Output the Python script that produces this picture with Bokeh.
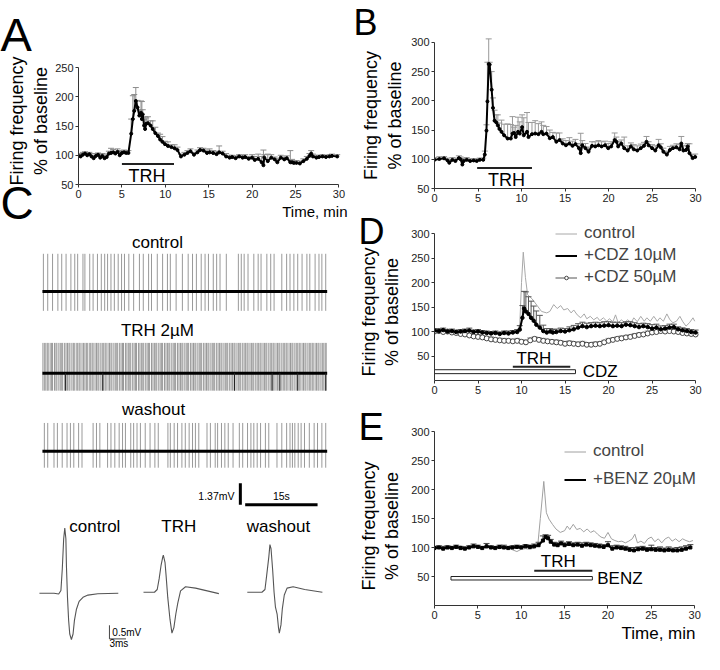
import numpy as np
from bokeh.plotting import figure
from bokeh.models import Range1d, FixedTicker, Label, Legend, LegendItem, Title
from bokeh.layouts import row, column
from bokeh.embed import file_html
from bokeh.resources import INLINE

FONT = "Liberation Sans"
SX = 702 / 720
SY = 652 / 670


def X(px):
    return int(round(px * SX))


def Y(py):
    return int(round(py * SY))


# ---------------- DATA ----------------
TICKS_X = [0, 5, 10, 15, 20, 25, 30]

# Panel A : firing frequency (% of baseline), mean and upper SEM
A_t = [0.0, 0.25, 0.5, 0.75, 1.0, 1.25, 1.5, 1.75, 2.0, 2.25, 2.5, 2.75, 3.0, 3.25, 3.5, 3.75, 4.0, 4.25, 4.5,
       4.75, 5.0, 5.25, 5.5, 5.75, 6.07, 6.26, 6.42, 6.6, 6.8, 7.0, 7.2, 7.3, 7.4, 7.55, 7.67, 7.8, 8.0, 8.3,
       8.55, 8.85, 9.15, 9.4, 9.67, 9.96, 10.3, 10.7, 11.07, 11.4, 11.8, 12.2, 12.55, 12.9, 13.3, 13.7, 14.0,
       14.4, 14.8, 15.1, 15.5, 15.9, 16.2, 16.6, 17.0, 17.4, 17.7, 18.1, 18.5, 18.9, 19.2, 19.6, 20.0, 20.3,
       20.7, 21.1, 21.3, 21.4, 21.8, 22.2, 22.6, 22.9, 23.3, 23.7, 24.0, 24.4, 24.6, 24.8, 25.1, 25.5, 25.9,
       26.3, 26.6, 26.8, 27.0, 27.4, 27.7, 28.1, 28.5, 28.9, 29.2, 29.8]
A_v = [99, 98, 101, 103, 100, 102, 98, 95, 99, 101, 96, 99, 95, 97, 103, 104, 105, 103, 106,
       100, 104, 105, 104, 104, 137, 162, 176, 193, 182, 168, 173, 162, 170, 151, 145, 154, 155, 151,
       145, 138, 133, 127, 123, 119, 116, 114, 112, 109, 98, 101, 104, 107, 101, 105, 109,
       108, 104, 105, 104, 102, 105, 103, 98, 96, 97, 95, 98, 96, 97, 94, 96, 92,
       94, 88, 83, 96, 90, 96, 93, 88, 96, 93, 95, 88, 88, 87, 87, 86, 90,
       94, 99, 103, 98, 96, 97, 98, 97, 98, 99, 98]
A_err = [4, 4, 4, 3, 4, 3, 5, 5, 4, 3, 6, 4, 4, 5, 4, 8, 5, 4, 5,
         6, 4, 4, 4, 4, 25, 40, 28, 23, 12, 10, 20, 30, 8, 10, 21, 10, 11, 8,
         14, 10, 5, 9, 9, 5, 7, 4, 6, 5, 4, 4, 4, 4, 4, 4, 4,
         4, 5, 6, 4, 5, 11, 4, 5, 4, 3, 4, 3, 4, 4, 4, 5, 6,
         8, 10, 26, 5, 12, 5, 4, 6, 4, 4, 4, 20, 5, 4, 4, 4, 4,
         4, 4, 5, 4, 4, 3, 3, 3, 3, 3, 3]
A_TRH = [5.0, 11.0]

# Panel B
B_t = [0.0, 0.56, 1.1, 1.5, 1.7, 2.05, 2.4, 2.8, 3.0, 3.2, 3.35, 3.7, 4.1, 4.5, 4.85, 5.2, 5.6, 5.78, 5.97,
       6.08, 6.23, 6.34, 6.57, 6.72, 6.9, 7.1, 7.28, 7.46, 7.7, 8.0, 8.4, 8.77, 8.96, 9.14, 9.33, 9.6, 9.8,
       10.07, 10.26, 10.63, 10.8, 11.2, 11.57, 11.94, 12.3, 12.5, 12.87, 13.25, 13.6, 14.0, 14.37, 14.74,
       15.1, 15.5, 15.86, 16.2, 16.6, 16.8, 16.98, 17.35, 17.7, 18.1, 18.47, 18.84, 19.2, 19.6, 19.96,
       20.3, 20.7, 20.9, 21.1, 21.46, 21.8, 22.2, 22.57, 22.9, 23.3, 23.7, 24.07, 24.36, 24.6, 25.0,
       25.37, 25.75, 26.0, 26.3, 26.7, 27.05, 27.4, 27.8, 28.17, 28.36, 28.6, 28.9, 29.1, 29.3, 29.66, 29.96]
B_v = [99, 100.5, 101.6, 98, 94, 99, 97, 102, 100, 91, 97, 99, 97, 98, 97, 99, 99, 108, 149,
       199, 263, 262, 219, 188, 166, 163, 158, 152, 147, 141, 135.5, 135.5, 144, 145, 138, 147, 144,
       155, 141, 147, 138, 143, 144, 143, 147, 143, 144, 136, 138, 130, 133, 127,
       124, 127, 123, 126, 119, 110.5, 124, 119, 113, 123, 122, 124, 122, 124, 119,
       122, 133, 130, 122, 127, 119, 115, 122, 117, 115, 119, 123, 130, 124, 119,
       115, 124, 120.5, 113, 108, 116, 119, 120.5, 117, 127, 115, 116, 122, 110.5, 102, 104]
B_err = [4, 4, 3, 4, 5, 4, 5, 4, 4, 10, 5, 4, 4, 3, 4, 3, 3, 6, 10,
         67, 43, 4, 31, 17, 18, 13, 18, 10, 20, 19, 25, 24, 29, 10, 20, 25, 20,
         21, 30, 33, 25, 20, 22, 18, 17, 15, 12, 14, 8, 15, 12, 8,
         8, 10, 8, 8, 8, 34, 8, 8, 8, 7, 8, 8, 8, 7, 8,
         8, 12, 8, 8, 6, 19, 8, 6, 8, 8, 7, 6, 9, 6, 6,
         8, 10, 6, 6, 6, 6, 5, 6, 8, 12, 8, 8, 5, 16, 6, 5]
B_TRH = [4.9, 11.2]

# Panel C : extracellular recordings (spike times in s)
TRACE_DUR = 59.0
C_ctrl_spikes = [0.2, 1.1, 2.1, 3.2, 4.0, 4.9, 5.9, 6.7, 7.3, 8.4, 8.8, 9.8, 10.5, 11.4, 12.2, 12.9, 13.5, 14.2,
                 14.9, 15.7, 16.4, 17.0, 17.9, 18.9, 20.1, 20.9, 22.0, 22.6, 23.8, 24.9, 25.9, 26.5, 27.7,
                 29.0, 30.2, 31.1, 31.9, 32.9, 33.7, 34.4, 35.4, 36.1, 36.8, 38.1, 40.6, 41.2, 41.8, 42.6,
                 43.8, 44.7, 45.3, 46.5, 47.3, 48.0, 49.6, 50.6, 51.3, 52.1, 52.9, 53.8, 54.8, 55.4, 56.5,
                 57.3, 57.9, 58.7]
C_trh_spikes = [0.1, 0.4, 0.7, 1.0, 1.2, 1.6, 1.9, 2.1, 2.5, 2.8, 3.0, 3.4, 3.7, 4.0, 4.2, 4.6, 4.9, 5.2, 5.5,
                5.7, 6.1, 6.4, 6.6, 7.0, 7.3, 7.6, 7.8, 8.2, 8.5, 8.8, 9.1, 9.3, 9.7, 10.0, 10.3, 10.5, 10.9,
                11.2, 11.5, 11.7, 12.1, 12.4, 12.7, 13.0, 13.2, 13.6, 13.9, 14.2, 14.4, 14.8, 15.1, 15.4,
                15.6, 16.0, 16.3, 16.6, 16.8, 17.2, 17.5, 17.8, 18.1, 18.3, 18.7, 19.0, 19.3, 19.5, 19.9,
                20.2, 20.5, 20.8, 21.0, 21.4, 21.7, 22.0, 22.2, 22.6, 22.9, 23.2, 23.5, 23.7, 24.1, 24.4,
                24.7, 24.9, 25.3, 25.6, 25.9, 26.2, 26.4, 26.8, 27.1, 27.4, 27.6, 28.0, 28.3, 28.6, 28.9,
                29.1, 29.5, 29.8, 30.1, 30.3, 30.7, 31.0, 31.3, 31.6, 31.8, 32.2, 32.5, 32.8, 33.0, 33.4,
                33.7, 34.0, 34.3, 34.5, 34.9, 35.2, 35.5, 35.7, 36.1, 36.4, 36.7, 37.0, 37.2, 37.6, 37.9,
                38.2, 38.4, 38.8, 39.1, 39.4, 39.7, 39.9, 40.3, 40.6, 40.9, 41.1, 41.5, 41.8, 42.1, 42.4,
                42.6, 43.0, 43.3, 43.6, 43.8, 44.2, 44.5, 44.8, 45.1, 45.3, 45.7, 46.0, 46.3, 46.5, 46.9,
                47.2, 47.5, 47.8, 48.0, 48.4, 48.7, 49.0, 49.2, 49.6, 49.9, 50.2, 50.5, 50.7, 51.1, 51.4,
                51.7, 51.9, 52.3, 52.6, 52.9, 53.2, 53.4, 53.8, 54.1, 54.4, 54.6, 55.0, 55.3, 55.6, 55.9,
                56.1, 56.5, 56.8, 57.1, 57.3, 57.7, 58.0, 58.3, 58.6, 58.8]
C_trh_dark = [4.8, 12.5, 39.8, 47.6, 49.2, 52.9, 58.7]
C_wash_spikes = [0.4, 1.1, 2.4, 3.1, 4.1, 5.1, 5.8, 6.5, 7.5, 8.2, 10.5, 11.2, 11.9, 13.5, 14.2, 15.0, 15.9,
                 16.6, 17.2, 18.3, 18.9, 19.6, 20.3, 21.3, 22.3, 23.3, 24.0, 26.0, 26.5, 27.3, 28.0, 28.9,
                 29.6, 30.4, 31.1, 31.7, 32.4, 34.1, 34.8, 35.8, 36.3, 37.1, 37.8, 38.5, 39.5, 40.8, 41.5,
                 42.5, 43.2, 43.8, 44.5, 45.2, 46.2, 46.9, 48.6, 49.6, 50.6, 51.3, 51.8, 52.3, 53.0, 53.6,
                 54.3, 55.3, 56.3, 57.0, 57.9, 58.7]
C_ctrl_amp = [2.43, -1.25]
C_trh_amp = [1.93, -1.12]
C_wash_amp = [1.80, -1.06]
SCALE_MV = 1.37
SCALE_S = 15

# Panel C : averaged spike waveforms (ms, mV)
W_ctrl_t = [0, 2.65, 3.5, 3.9, 4.15, 4.4, 4.6, 4.8, 4.9, 5.1, 5.3, 5.5, 5.8, 6.1, 6.35, 6.7, 7.2, 7.9, 8.8, 10.6, 14.3]
W_ctrl_v = [0, 0, -0.03, 0.1, 0.9, 2.0, 2.39, 2.0, 1.0, -0.2, -1.0, -1.5, -1.7, -1.5, -1.0, -0.6, -0.3, -0.15, -0.07, -0.02, 0]
W_trh_t = [0, 2.5, 3.0, 3.35, 3.7, 4.0, 4.1, 4.4, 4.6, 4.9, 5.3, 5.65, 6.0, 6.35, 6.7, 7.2, 8.1, 9.9, 12.0, 14.1]
W_trh_v = [0, 0, 0.1, 0.5, 1.0, 1.3, 1.36, 1.1, 0.6, -0.2, -1.0, -1.5, -1.3, -0.8, -0.4, 0.05, 0.2, 0.15, 0.05, -0.05]
W_wash_t = [0, 2.65, 3.2, 3.5, 3.9, 4.1, 4.3, 4.6, 4.85, 5.1, 5.4, 5.65, 5.8, 6.1, 6.35, 6.7, 7.2, 8.3, 10.4, 13.6]
W_wash_v = [0, 0, 0.1, 0.6, 1.3, 1.75, 1.6, 0.8, 0.0, -0.55, -0.8, -1.3, -1.5, -1.2, -0.6, -0.1, 0.15, 0.2, 0.1, 0.0]
W_SCALE_MV = 0.5
W_SCALE_MS = 3

# Panel D
D_ctrl_t = [0, 0.5, 1, 1.5, 2, 2.5, 3, 3.5, 4, 4.5, 5, 5.5, 6, 6.5, 7, 7.5, 8, 8.5, 9, 9.5, 9.8, 10.0, 10.2,
            10.45, 10.7, 11.2, 11.75, 12.3, 12.9, 13.25, 13.7, 14.1, 14.5, 14.85, 15.3, 15.7, 16.0, 16.4,
            16.8, 17.2, 17.5, 17.9, 18.3, 18.7, 19.0, 19.4, 19.8, 20.1, 20.5, 20.8, 21.1, 21.5, 21.8, 22.2,
            22.6, 22.9, 23.3, 23.7, 24.1, 24.4, 24.8, 25.2, 25.6, 25.9, 26.3, 26.7, 27.05, 27.4, 27.8, 28.2,
            28.5, 28.9, 29.3, 29.7, 29.9]
D_ctrl_v = [100, 103, 101, 104, 102, 99, 101, 103, 100, 104, 101, 98, 100, 97, 99, 98, 101, 99, 98, 100, 115,
            200, 262, 210, 175, 167, 154, 141, 138, 141, 155, 147, 153, 144, 147, 138, 144, 134, 128, 136,
            126, 131, 124, 129, 122, 128, 121, 126, 120, 134, 118, 124, 118, 124, 118, 128, 120, 131, 121,
            128, 121, 131, 121, 128, 121, 136, 124, 118, 121, 131, 121, 111, 118, 128, 121]
D_c10_t = [0, 0.5, 1, 1.5, 2, 2.5, 3, 3.5, 4, 4.5, 5, 5.5, 6, 6.5, 7, 7.5, 8, 8.5, 9, 9.5, 9.8, 10.1, 10.3,
           10.5, 10.8, 11.1, 11.4, 11.7, 12.1, 12.5, 12.9, 13.3, 13.6, 14.0, 14.5, 15.0, 15.5, 16.0, 16.5,
           17.0, 17.5, 18.0, 18.5, 19.0, 19.5, 20.0, 20.5, 21.0, 21.5, 22.0, 22.5, 23.0, 23.5, 24.0, 24.5,
           25.0, 25.5, 26.0, 26.5, 27.0, 27.5, 28.0, 28.5, 29.0, 29.5, 30.0]
D_c10_v = [102, 101, 103, 100, 101, 99, 100, 101, 102, 99, 100, 98, 97, 96, 97, 95, 97, 96, 98, 99, 104, 128,
           147, 141, 136, 128, 122, 114, 108, 101, 98, 100, 98, 99, 101, 100, 102.5, 104.5, 108, 111, 109,
           111, 112, 111, 112, 113, 111, 112, 111, 114, 113, 111, 109, 111, 109, 106, 108, 104.5, 106, 108,
           109, 104.5, 102.5, 101, 99, 98]
D_c10_err = [4, 4, 4, 4, 4, 4, 4, 4, 5, 4, 4, 4, 4, 4, 4, 4, 4, 5, 4, 5, 8, 25, 35, 40, 35, 34, 30, 28, 25, 12,
             8, 6, 6, 6, 6, 6, 7, 8, 8, 8, 8, 7, 7, 7, 8, 7, 8, 7, 7, 6, 7, 7, 7, 6, 7, 8, 7, 7, 6, 7, 6,
             5, 5, 5, 5, 5]
D_c50_t = [0, 0.5, 1, 1.5, 2, 2.5, 3, 3.5, 4, 4.5, 5, 5.5, 6, 6.5, 7, 7.5, 8, 8.5, 9, 9.5, 10, 10.5, 11, 11.5,
           12, 12.5, 13, 13.5, 14, 14.5, 15, 15.5, 16, 16.5, 17, 17.5, 18, 18.5, 19, 19.5, 20, 20.5, 21, 21.5,
           22, 22.5, 23, 23.5, 24, 24.5, 25, 25.5, 26, 26.5, 27, 27.5, 28, 28.5, 29, 29.5, 30]
D_c50_v = [100, 101, 99, 100, 98, 97, 95, 94, 92, 90, 89, 88, 86, 84, 83, 82, 81, 81, 80, 81, 79, 78, 82, 85,
           83, 81, 80, 79, 78, 77, 75, 76, 75, 74, 75, 73, 73, 74, 75, 78, 81, 83, 85, 86, 88, 89, 91, 93,
           94, 96, 98, 99, 101, 100, 101, 100, 99, 97, 96, 95, 94]
D_c50_err = [4, 4, 4, 4, 5, 4, 4, 5, 4, 4, 5, 4, 4, 5, 4, 4, 5, 4, 4, 5, 4, 4, 5, 4, 4, 5, 4, 4, 5, 4, 4,
             5, 4, 4, 5, 4, 4, 5, 4, 4, 5, 4, 4, 5, 4, 4, 5, 4, 4, 5, 4, 4, 5, 4, 4, 5, 4, 4, 5, 4, 4]
D_TRH = [9.0, 15.6]
D_CDZ = [0.0, 16.2]

# Panel E
E_ctrl_t = [0, 0.5, 1, 1.5, 2, 2.5, 3, 3.5, 4, 4.5, 5, 5.5, 6, 6.5, 7, 7.5, 8, 8.5, 9, 9.5, 10, 10.5, 11, 11.5,
            11.9, 12.2, 12.6, 12.9, 13.2, 13.6, 14.0, 14.5, 15.0, 15.3, 15.6, 16.0, 16.4, 16.8, 17.2, 17.6,
            18.0, 18.4, 18.8, 19.2, 19.6, 20.0, 20.4, 20.8, 21.2, 21.6, 22.0, 22.4, 22.8, 23.1, 23.4, 23.8,
            24.2, 24.6, 25.0, 25.4, 25.8, 26.2, 26.6, 27.0, 27.4, 27.8, 28.2, 28.6, 29.0, 29.4, 29.8]
E_ctrl_v = [98, 101, 99, 100, 102, 99, 103, 100, 98, 101, 103, 100, 99, 102, 100, 98, 101, 99, 96, 93, 97, 98,
            97, 99, 103, 150, 214, 160, 149, 140, 132, 126, 129, 137, 131, 140, 131, 133, 127, 132, 126, 129,
            123, 118, 116, 126, 115, 112, 110, 111, 108, 111, 115, 123, 108, 111, 107, 115, 118, 110, 115,
            108, 115, 118, 111, 115, 110, 115, 112, 110, 112]
E_bz_t = [0, 0.5, 1, 1.5, 2, 2.5, 3, 3.5, 4, 4.5, 5, 5.5, 6, 6.5, 7, 7.5, 8, 8.5, 9, 9.5, 10, 10.5, 11, 11.5,
          12.0, 12.5, 12.8, 13.1, 13.4, 13.8, 14.2, 14.6, 15.0, 15.5, 16.0, 16.5, 17.0, 17.5, 18.0, 18.5,
          19.0, 19.5, 20.0, 20.5, 21.0, 21.5, 22.0, 22.5, 23.0, 23.5, 24.0, 24.5, 25.0, 25.5, 26.0, 26.5,
          27.0, 27.5, 28.0, 28.5, 29.0, 29.5]
E_bz_v = [99, 100, 98, 100, 99, 101, 99, 98, 100, 102, 101, 99, 102, 100, 99, 101, 100, 99, 100, 101, 100, 102,
          101, 102, 104, 112, 118, 116, 110, 105, 104, 107, 104, 106, 104, 105, 103, 105, 104, 103, 102, 101,
          104, 98, 100, 99, 98, 96, 95, 97, 98, 96, 97, 96, 96, 95, 96, 95, 95, 96, 98, 100]
E_bz_err = [3, 3, 4, 3, 3, 3, 3, 3, 3, 4, 3, 3, 5, 3, 3, 3, 4, 3, 3, 3, 3, 3, 3, 4, 5, 8, 4, 5, 4, 4, 4, 4, 4,
            4, 4, 4, 5, 4, 4, 4, 4, 4, 6, 5, 4, 4, 4, 4, 5, 4, 4, 4, 7, 4, 5, 4, 5, 4, 5, 5, 5, 5]
E_TRH = [11.5, 18.2]
E_BENZ = [1.9, 18.2]

# ---------------- HELPERS ----------------


def no_align(p):
    try:
        p.frame_align = False
    except Exception:
        pass


def style_axes(p, xticks, yticks, xb, yb):
    p.xaxis.ticker = FixedTicker(ticks=xticks)
    p.yaxis.ticker = FixedTicker(ticks=yticks)
    p.xaxis.bounds = xb
    p.yaxis.bounds = yb
    for ax in list(p.xaxis) + list(p.yaxis):
        ax.axis_line_color = "#333333"
        ax.major_tick_line_color = "#333333"
        ax.minor_tick_line_color = None
        ax.major_tick_out = 3
        ax.major_tick_in = 0
        ax.major_label_text_font = FONT
        ax.major_label_text_font_size = "11px"
        ax.major_label_text_color = "#222222"
        ax.major_label_standoff = 2


def chart(bounds, fl, fb, ox, kx, y_at_fb, ky, xticks, yticks, xb, yb):
    """frame spans from fl to the right edge and from the top edge to fb (ref px)."""
    x0, x1, y0, y1 = bounds
    xr = (ox, ox + (x1 - fl) / kx)
    yr = (y_at_fb, y_at_fb + (fb - y0) / ky)
    p = figure(width=X(x1) - X(x0), height=Y(y1) - Y(y0),
               x_range=Range1d(*xr), y_range=Range1d(*yr),
               output_backend="svg", toolbar_location=None,
               min_border_left=X(fl) - X(x0), min_border_right=0,
               min_border_top=0, min_border_bottom=Y(y1) - Y(fb))
    p.outline_line_color = None
    p.grid.visible = False
    no_align(p)
    style_axes(p, xticks, yticks, xb, yb)

    def fx(px):
        return ox + (px - fl) / kx

    def fy(py):
        return y_at_fb + (fb - py) / ky
    return p, fx, fy


def blank(bounds, ox, kx, oy, ky):
    x0, x1, y0, y1 = bounds
    xr = ((x0 - ox) / kx, (x1 - ox) / kx)
    yr = ((oy - y1) / ky, (oy - y0) / ky)
    p = figure(width=X(x1) - X(x0), height=Y(y1) - Y(y0),
               x_range=Range1d(*xr), y_range=Range1d(*yr),
               output_backend="svg", toolbar_location=None,
               x_axis_location=None, y_axis_location=None, min_border=0)
    p.outline_line_color = None
    p.grid.visible = False
    no_align(p)

    def fx(px):
        return (px - ox) / kx

    def fy(py):
        return (oy - py) / ky
    return p, fx, fy


def text(p, x, y, s, size, align="center", baseline="middle", color="black"):
    p.add_layout(Label(x=x, y=y, text=s, text_font=FONT, text_font_size=f"{size}px",
                       text_align=align, text_baseline=baseline, text_color=color))


def mk_title(s, size, align, offset, standoff, valign="bottom"):
    return Title(text=s, align=align, offset=offset, standoff=standoff, vertical_align=valign,
                 text_font=FONT, text_font_size=f"{size}px", text_font_style="normal", text_color="black")


def errbars(p, t, v, e, color):
    top = [a + b for a, b in zip(v, e)]
    p.segment(x0=t, y0=v, x1=t, y1=top, line_color=color, line_width=1)
    p.scatter(x=t, y=top, marker="dash", size=6, line_color=color, line_width=1)


def label_panel(bounds, ftop, fbot, letter, letter_x, letter_size, s2):
    """narrow panel holding the panel letter (above) and the rotated y-axis label (left)."""
    x0, x1, y0, y1 = bounds
    W = X(x1) - X(x0)
    H = Y(y1) - Y(y0)
    top = Y(ftop) - Y(y0)
    bot = Y(y1) - Y(fbot)
    p = figure(width=W, height=H, x_range=Range1d(0, 1), y_range=Range1d(0, 1),
               output_backend="svg", toolbar_location=None,
               x_axis_location=None, y_axis_location=None,
               min_border_left=W - 2, min_border_right=0, min_border_top=top, min_border_bottom=bot)
    p.outline_line_color = None
    p.grid.visible = False
    no_align(p)
    p.add_layout(mk_title("% of baseline", 18, "center", 0, 0), "left")
    p.add_layout(mk_title("Firing frequency", 18, "center", 0, s2), "left")
    st = max(0, int(top - 2 - 1.15 * letter_size))
    p.add_layout(mk_title(letter, letter_size, "left", (X(letter_x) - X(x0)) - (W - 2), st, "top"), "above")
    return p, W, bot


def bottom_title(p, s, size, offset):
    p.add_layout(mk_title(s, size, "right", offset, 0), "below")


# ---------------- PANEL A ----------------
labA, WA, botA = label_panel((0, 53, 0, 240), 69, 179, "A", 0, 47, 3)
stC = max(0, int(botA - 2 - 1.15 * 46))
labA.add_layout(mk_title("C", 46, "left", -(WA - 2), stC, "top"), "below")
pA, fxA, fyA = chart((53, 360, 0, 240), 77, 189, 0, 9.0, 50, 0.6, TICKS_X, [50, 100, 150, 200, 250],
                     (0, 30), (50, 250))
errbars(pA, A_t, A_v, A_err, "#8c8c8c")
pA.line(A_t, A_v, line_color="black", line_width=2)
pA.scatter(A_t, A_v, size=3, color="black")
pA.line(A_TRH, [85, 85], line_color="#222222", line_width=2)
text(pA, fxA(148), fyA(180), "TRH", 18)
bottom_title(pA, "Time, min", 15, 4)

# ---------------- PANEL C traces ----------------
KX, KY = 4.95, 16.06


def trace(bounds, oy, spikes, amp, title, title_pos):
    p, fx, fy = blank(bounds, 43, KX, oy, KY)
    p.segment(x0=spikes, y0=[amp[1]] * len(spikes), x1=spikes, y1=[amp[0]] * len(spikes),
              line_color="#999999", line_width=1)
    p.line([0, TRACE_DUR], [0, 0], line_color="black", line_width=3)
    text(p, fx(title_pos[0]), fy(title_pos[1]), title, 17)
    return p, fx, fy


pCc, _, _ = trace((0, 360, 240, 327), 299, C_ctrl_spikes, C_ctrl_amp, "control", (161, 248))
pCt, _, _ = trace((0, 360, 327, 409), 383, C_trh_spikes, C_trh_amp, "TRH 2\u00b5M", (161, 339))
pCt.segment(x0=C_trh_dark, y0=[C_trh_amp[1]] * len(C_trh_dark), x1=C_trh_dark, y1=[0] * len(C_trh_dark),
            line_color="#222222", line_width=1)
pCw, fxW, fyW = trace((0, 360, 409, 527), 463, C_wash_spikes, C_wash_amp, "washout", (157, 420))
# scale bar (1.37 mV, 15 s)
sb_x = fxW(246)
sb_y = fyW(518)
pCw.line([sb_x, sb_x], [sb_y, sb_y + SCALE_MV], line_color="black", line_width=3)
pCw.line([sb_x + 1.0, sb_x + 1.0 + SCALE_S], [sb_y, sb_y], line_color="black", line_width=3)
text(pCw, fxW(240), fyW(509), "1.37mV", 10.5, align="right")
text(pCw, sb_x + 1.0 + SCALE_S / 2, fyW(509), "15s", 10.5)

# ---------------- PANEL C spikes ----------------
KT, KV = 5.67, 28.0
pS1, fx1, fy1 = blank((0, 147, 527, 670), 40, KT, 609, KV)
pS1.line(W_ctrl_t, W_ctrl_v, line_color="#555555", line_width=1.1)
text(pS1, fx1(97), fy1(540), "control", 17)
wx = fx1(112)
wy = fy1(656)
pS1.line([wx, wx], [wy, wy + W_SCALE_MV], line_color="#444444", line_width=1)
pS1.line([wx, wx + W_SCALE_MS], [wy, wy], line_color="#444444", line_width=1)
text(pS1, fx1(115), fy1(649), "0.5mV", 10, align="left")
text(pS1, wx, fy1(661), "3ms", 10, align="left")

pS2, fx2, fy2 = blank((147, 245, 527, 670), 144, KT, 608, KV)
pS2.line(W_trh_t, W_trh_v, line_color="#555555", line_width=1.1)
text(pS2, fx2(183), fy2(540), "TRH", 17)

pS3, fx3, fy3 = blank((245, 360, 527, 670), 253, KT, 608, KV)
pS3.line(W_wash_t, W_wash_v, line_color="#555555", line_width=1.1)
text(pS3, fx3(285), fy3(540), "washout", 17)

# ---------------- PANEL B ----------------
labB, _, _ = label_panel((360, 416, 0, 214), 46, 190, "B", 362, 36, 3)
pB, fxB, fyB = chart((416, 720, 0, 214), 445, 193, 0, 8.93, 50, 0.6, TICKS_X,
                     [50, 100, 150, 200, 250, 300], (0, 30), (50, 300))
errbars(pB, B_t, B_v, B_err, "#999999")
pB.line(B_t, B_v, line_color="black", line_width=2)
pB.scatter(B_t, B_v, size=3, color="black")
pB.line(B_TRH, [85, 85], line_color="#222222", line_width=2)
text(pB, fxB(519), fyB(184), "TRH", 18)

# ---------------- PANEL D ----------------
labD, _, _ = label_panel((360, 413, 214, 413), 262, 378, "D", 367, 36, 1)
pD, fxD, fyD = chart((413, 720, 214, 413), 445, 391, 0, 8.93, 0, 0.504, TICKS_X,
                     [50, 100, 150, 200, 250, 300], (0, 30), (0, 300))
rD0 = pD.line(D_ctrl_t, D_ctrl_v, line_color="#a8a8a8", line_width=1)
errbars(pD, D_c50_t, D_c50_v, D_c50_err, "#999999")
rD50l = pD.line(D_c50_t, D_c50_v, line_color="#555555", line_width=1)
rD50m = pD.scatter(D_c50_t, D_c50_v, marker="circle", size=5, line_color="#444444", fill_color="white",
                   line_width=1)
errbars(pD, D_c10_t, D_c10_v, D_c10_err, "#555555")
rD10l = pD.line(D_c10_t, D_c10_v, line_color="black", line_width=2)
rD10m = pD.scatter(D_c10_t, D_c10_v, marker="circle", size=3.5, color="black")
pD.line(D_TRH, [28, 28], line_color="#222222", line_width=2)
text(pD, fxD(547), fyD(368), "TRH", 17)
pD.quad(left=[D_CDZ[0]], right=[D_CDZ[1]], bottom=[14], top=[22], fill_color="white",
        line_color="#222222", line_width=1)
text(pD, fxD(597), fyD(382), "CDZ", 17, align="left")
legD = Legend(items=[LegendItem(label="control", renderers=[rD0]),
                     LegendItem(label="+CDZ 10\u00b5M", renderers=[rD10l]),
                     LegendItem(label="+CDZ 50\u00b5M", renderers=[rD50l, rD50m])],
              location=(X(569) - X(445), Y(391) - Y(295)))

# ---------------- PANEL E ----------------
labE, _, _ = label_panel((360, 413, 413, 670), 463, 617, "E", 367, 38, 1)
pE, fxE, fyE = chart((413, 720, 413, 670), 445, 622, 0, 8.9, 0, 0.597, TICKS_X,
                     [50, 100, 150, 200, 250, 300], (0, 30), (0, 300))
rE0 = pE.line(E_ctrl_t, E_ctrl_v, line_color="#a0a0a0", line_width=1)
errbars(pE, E_bz_t, E_bz_v, E_bz_err, "#444444")
rEl = pE.line(E_bz_t, E_bz_v, line_color="black", line_width=2)
rEm = pE.scatter(E_bz_t, E_bz_v, marker="square", size=3, color="black")
pE.line(E_TRH, [60, 60], line_color="#222222", line_width=2)
text(pE, fxE(572), fyE(577), "TRH", 17)
pE.quad(left=[E_BENZ[0]], right=[E_BENZ[1]], bottom=[44], top=[50], fill_color="white",
        line_color="#222222", line_width=1)
text(pE, fxE(612), fyE(594), "BENZ", 17, align="left")
bottom_title(pE, "Time, min", 17, 7)
legE = Legend(items=[LegendItem(label="control", renderers=[rE0]),
                     LegendItem(label="+BENZ 20\u00b5M", renderers=[rEl])],
              location=(X(578) - X(445), Y(622) - Y(502)))

for p, lg, sp in [(pD, legD, 2), (pE, legE, 8)]:
    lg.background_fill_alpha = 0
    lg.border_line_color = None
    lg.padding = 0
    lg.margin = 0
    lg.spacing = sp
    lg.glyph_width = 22
    lg.glyph_height = 9
    lg.label_height = 20
    lg.label_standoff = 7
    lg.label_text_font = FONT
    lg.label_text_font_size = "17px"
    p.add_layout(lg)

left = column(row(labA, pA), pCc, pCt, pCw, row(pS1, pS2, pS3))
right = column(row(labB, pB), row(labD, pD), row(labE, pE))
page = row(left, right)

open("out.html", "w").write(file_html(page, INLINE))
